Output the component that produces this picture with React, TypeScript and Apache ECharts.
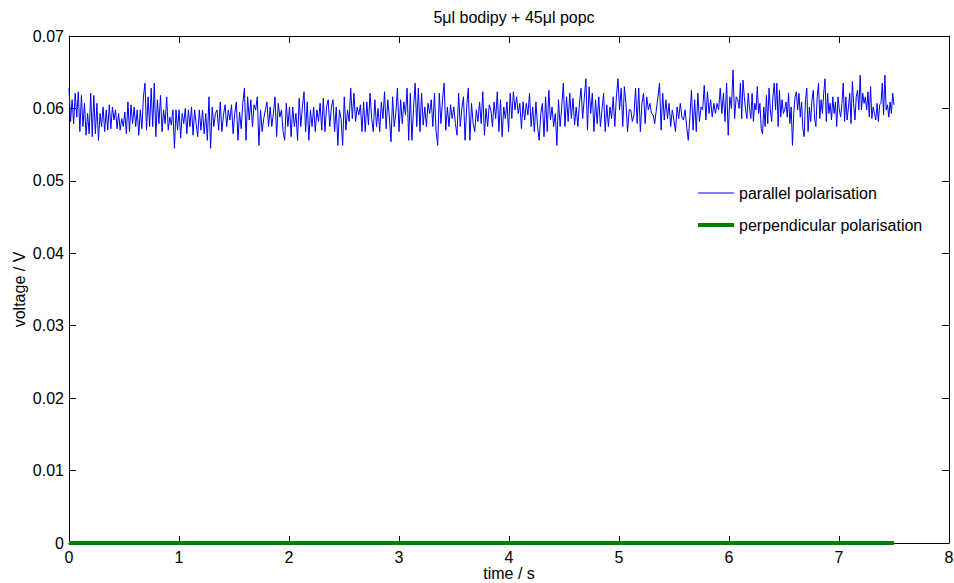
import React, { useEffect, useRef } from "react";
import * as echarts from "echarts";

const titleText = "5μl bodipy + 45μl popc";
const xName = "time / s";
const yName = "voltage / V";
const seriesNames = ["parallel polarisation", "perpendicular polarisation"];

// time span (s) covered by each read-off segment of the parallel trace
const segStart = [0, 1.17, 2.4, 3.63, 4.86, 6.08];
const segEnd = [1.17, 2.4, 3.63, 4.86, 6.08, 7.5];

const seg1 = [0.0628,0.0582,0.0612,0.0579,0.0621,0.0588,0.0623,0.0568,0.0618,0.0575,0.0607,0.0563,0.0593,0.0565,0.0621,0.0561,0.0618,0.0565,0.0607,0.0556,0.0593,0.0575,0.0602,0.0568,0.0598,0.057,0.0605,0.0572,0.0602,0.0584,0.0598,0.0572,0.0593,0.057,0.0586,0.0575,0.0595,0.0565,0.0609,0.0568,0.0605,0.0579,0.0602,0.0575,0.0598,0.0563,0.0598,0.0572,0.0616,0.0635,0.057,0.0616,0.0575,0.0628,0.0575,0.0635,0.0561,0.0612,0.0579,0.0618,0.0568,0.0598,0.0579,0.0616,0.057,0.0588,0.0577,0.0598,0.0545,0.0598,0.057,0.0598,0.0559,0.0593,0.0579,0.06,0.0565,0.0598,0.0575,0.0602,0.0563,0.0598,0.0579];
const seg2 = [0.0561,0.0598,0.057,0.0598,0.0565,0.0593,0.0556,0.0616,0.0545,0.0602,0.0575,0.0593,0.0598,0.057,0.0609,0.0568,0.0591,0.0605,0.0575,0.0598,0.0584,0.0605,0.0565,0.0593,0.0609,0.0556,0.0595,0.0572,0.0607,0.0628,0.0556,0.0616,0.0584,0.0612,0.0575,0.0605,0.0598,0.0616,0.0549,0.0598,0.0568,0.0586,0.0598,0.0609,0.0575,0.0602,0.0575,0.0593,0.0616,0.0561,0.0607,0.0588,0.0598,0.0568,0.0556,0.0607,0.0575,0.0602,0.0561,0.0602,0.0575,0.0593,0.0556,0.0614,0.0575,0.0602,0.0623,0.0568,0.0609,0.0556,0.0598,0.0575,0.0602,0.0568,0.0598,0.0582,0.0607,0.057,0.0614,0.0568,0.0602,0.0612,0.0575,0.0602];
const seg3 = [0.0612,0.0568,0.0602,0.0549,0.0598,0.0586,0.0549,0.0616,0.057,0.0598,0.0582,0.0628,0.0586,0.0621,0.0582,0.0602,0.0591,0.0605,0.0568,0.0609,0.0568,0.0609,0.0577,0.0621,0.0586,0.0568,0.0612,0.0575,0.06,0.0568,0.0609,0.0586,0.0623,0.0572,0.0612,0.0588,0.0554,0.0616,0.0575,0.0593,0.0628,0.0568,0.0612,0.0579,0.0609,0.0591,0.0628,0.0556,0.0621,0.0556,0.06,0.0635,0.0575,0.0628,0.0568,0.0621,0.0577,0.0602,0.0575,0.0607,0.0593,0.0612,0.0575,0.0621,0.0568,0.0549,0.0621,0.0579,0.0612,0.0635,0.057,0.0602,0.0575,0.0605,0.0586,0.0602,0.0579,0.0563,0.0621,0.0575,0.06,0.0616,0.0556,0.0602];
const seg4 = [0.0628,0.0556,0.0607,0.0579,0.0568,0.0598,0.0582,0.0609,0.0579,0.0623,0.0563,0.06,0.0575,0.0605,0.0598,0.0575,0.0609,0.0586,0.0623,0.0568,0.0612,0.0561,0.0602,0.0586,0.0609,0.0568,0.0621,0.0586,0.0623,0.0598,0.0616,0.0593,0.0607,0.0572,0.0609,0.0584,0.0607,0.0591,0.0621,0.0575,0.0602,0.0568,0.0609,0.0575,0.0556,0.0593,0.0607,0.0561,0.0616,0.0568,0.0625,0.0584,0.0602,0.0575,0.0593,0.0549,0.0612,0.0575,0.0602,0.0635,0.0575,0.0616,0.0582,0.0621,0.0586,0.0614,0.0577,0.0602,0.0575,0.0607,0.0628,0.0586,0.0614,0.0641,0.057,0.063,0.0593,0.0621,0.0568,0.0612,0.0579,0.0616,0.0575,0.0598];
const seg5 = [0.0621,0.0568,0.0605,0.0575,0.0602,0.0586,0.0616,0.0575,0.0616,0.0641,0.0598,0.0628,0.0575,0.063,0.0607,0.0568,0.0598,0.0598,0.0582,0.0591,0.0628,0.0579,0.0628,0.0568,0.0607,0.0621,0.0579,0.0616,0.0598,0.0607,0.0593,0.0591,0.0579,0.0598,0.0616,0.0635,0.057,0.0621,0.0584,0.0612,0.0586,0.0607,0.0575,0.0598,0.0584,0.0568,0.0602,0.0586,0.0607,0.0588,0.0584,0.0598,0.0575,0.0556,0.0588,0.0625,0.057,0.0612,0.0568,0.0621,0.0582,0.0602,0.0598,0.0632,0.0584,0.0623,0.0593,0.0612,0.0588,0.0607,0.0593,0.0607,0.0598,0.0628,0.0593,0.0621,0.0582,0.0635,0.0563,0.0616,0.06,0.0653,0.0586,0.0616];
const seg6 = [0.0612,0.06,0.0635,0.0586,0.0639,0.0616,0.0598,0.0586,0.0621,0.06,0.0586,0.0621,0.0582,0.0607,0.0598,0.063,0.0593,0.0607,0.0572,0.0565,0.0602,0.0575,0.0618,0.0579,0.0628,0.0598,0.0582,0.0616,0.0635,0.0598,0.0635,0.0575,0.0625,0.0588,0.0612,0.0593,0.0598,0.0609,0.0588,0.0621,0.0579,0.0602,0.0549,0.0593,0.0616,0.0623,0.0598,0.0621,0.0588,0.0609,0.0572,0.0561,0.0612,0.0628,0.0568,0.0602,0.0582,0.0612,0.0625,0.0586,0.0575,0.0616,0.0635,0.0586,0.0612,0.0593,0.0621,0.0641,0.0582,0.0621,0.0593,0.0607,0.0584,0.0616,0.0593,0.0609,0.0575,0.0616,0.0598,0.0588,0.0607,0.0635,0.0582,0.0616,0.0584,0.0602,0.0621,0.0579,0.0637,0.0607,0.0584,0.0616,0.0625,0.0598,0.0646,0.0598,0.0621,0.0607,0.0616,0.0598,0.0623,0.0588,0.063,0.0586,0.0602,0.0593,0.0584,0.0607,0.0582,0.0605,0.0607,0.0635,0.0591,0.0646,0.0598,0.0605,0.0588,0.0609,0.0593,0.0621,0.0605];

const perpTime = [0, 7.5];
const perpValue = [0, 0];

const xTicks = { min: 0, max: 8, interval: 1 };
const yTicks = { min: 0, max: 0.07, interval: 0.01 };

const FONT = "'Liberation Sans', Arial, Helvetica, sans-serif";

function buildParallel(): [number, number][] {
  const segs = [seg1, seg2, seg3, seg4, seg5, seg6];
  const out: [number, number][] = [];
  segs.forEach((seg, s) => {
    const last = s === segs.length - 1;
    const n = last ? seg.length - 1 : seg.length;
    seg.forEach((v, i) => {
      const t = segStart[s] + ((segEnd[s] - segStart[s]) * i) / n;
      out.push([t, v]);
    });
  });
  return out;
}

export default function App() {
  const ref = useRef<HTMLDivElement>(null);
  useEffect(() => {
    if (!ref.current) return;
    const chart = echarts.init(ref.current, undefined, { renderer: "svg" });
    const axisLine = { show: true, onZero: false, lineStyle: { color: "#000", width: 1 } };
    const tick = { show: true, inside: true, length: 7, lineStyle: { color: "#000", width: 1 } };
    const label = { color: "#000", fontSize: 16, fontFamily: FONT, lineHeight: 16 };
    chart.setOption({
      animation: false,
      backgroundColor: "#fff",
      title: {
        text: titleText,
        left: 509,
        textAlign: "center",
        top: 4,
        textStyle: { color: "#000", fontSize: 16, fontWeight: "normal", fontFamily: FONT },
      },
      legend: {
        orient: "vertical",
        left: 691,
        top: 180,
        itemWidth: 36,
        itemHeight: 14,
        itemGap: 16,
        data: [
          { name: seriesNames[0], lineStyle: { width: 1, color: "#0000ff" } },
          { name: seriesNames[1], lineStyle: { width: 4, color: "#008000" } },
        ],
        itemStyle: { opacity: 0, color: "rgba(0,0,0,0)", borderWidth: 0 },
        textStyle: { color: "#000", fontSize: 16, fontFamily: FONT },
      },
      grid: { left: 69, right: 5, top: 36, bottom: 40, containLabel: false, outerBoundsMode: "none" },
      xAxis: [
        {
          type: "value",
          position: "bottom",
          ...xTicks,
          axisLine,
          axisTick: tick,
          axisLabel: { ...label, margin: 6 },
          splitLine: { show: false },
          name: xName,
          nameLocation: "middle",
          nameGap: 22,
          nameMoveOverlap: false,
          nameTextStyle: { color: "#000", fontSize: 16, fontFamily: FONT, lineHeight: 16 },
        },
        {
          type: "value",
          position: "top",
          ...xTicks,
          axisLine,
          axisTick: tick,
          axisLabel: { show: false },
          splitLine: { show: false },
        },
      ],
      yAxis: [
        {
          type: "value",
          position: "left",
          ...yTicks,
          axisLine,
          axisTick: tick,
          axisLabel: { ...label, margin: 5 },
          splitLine: { show: false },
          name: yName,
          nameLocation: "middle",
          nameGap: 42,
          nameMoveOverlap: false,
          nameTextStyle: { color: "#000", fontSize: 16, fontFamily: FONT },
        },
        {
          type: "value",
          position: "right",
          ...yTicks,
          axisLine,
          axisTick: tick,
          axisLabel: { show: false },
          splitLine: { show: false },
        },
      ],
      series: [
        {
          name: seriesNames[0],
          type: "line",
          data: buildParallel(),
          showSymbol: false,
          symbol: "none",
          lineStyle: { color: "#0000ff", width: 1 },
          itemStyle: { color: "#0000ff" },
          clip: false,
        },
        {
          name: seriesNames[1],
          type: "line",
          data: perpTime.map((t, i) => [t, perpValue[i]]),
          showSymbol: false,
          symbol: "none",
          lineStyle: { color: "#008000", width: 4 },
          itemStyle: { color: "#008000" },
          clip: false,
        },
      ],
    });
    return () => chart.dispose();
  }, []);
  return (
    <div
      ref={ref}
      style={{ position: "absolute", left: 0, top: 0, width: 954, height: 583, background: "#fff" }}
    />
  );
}
